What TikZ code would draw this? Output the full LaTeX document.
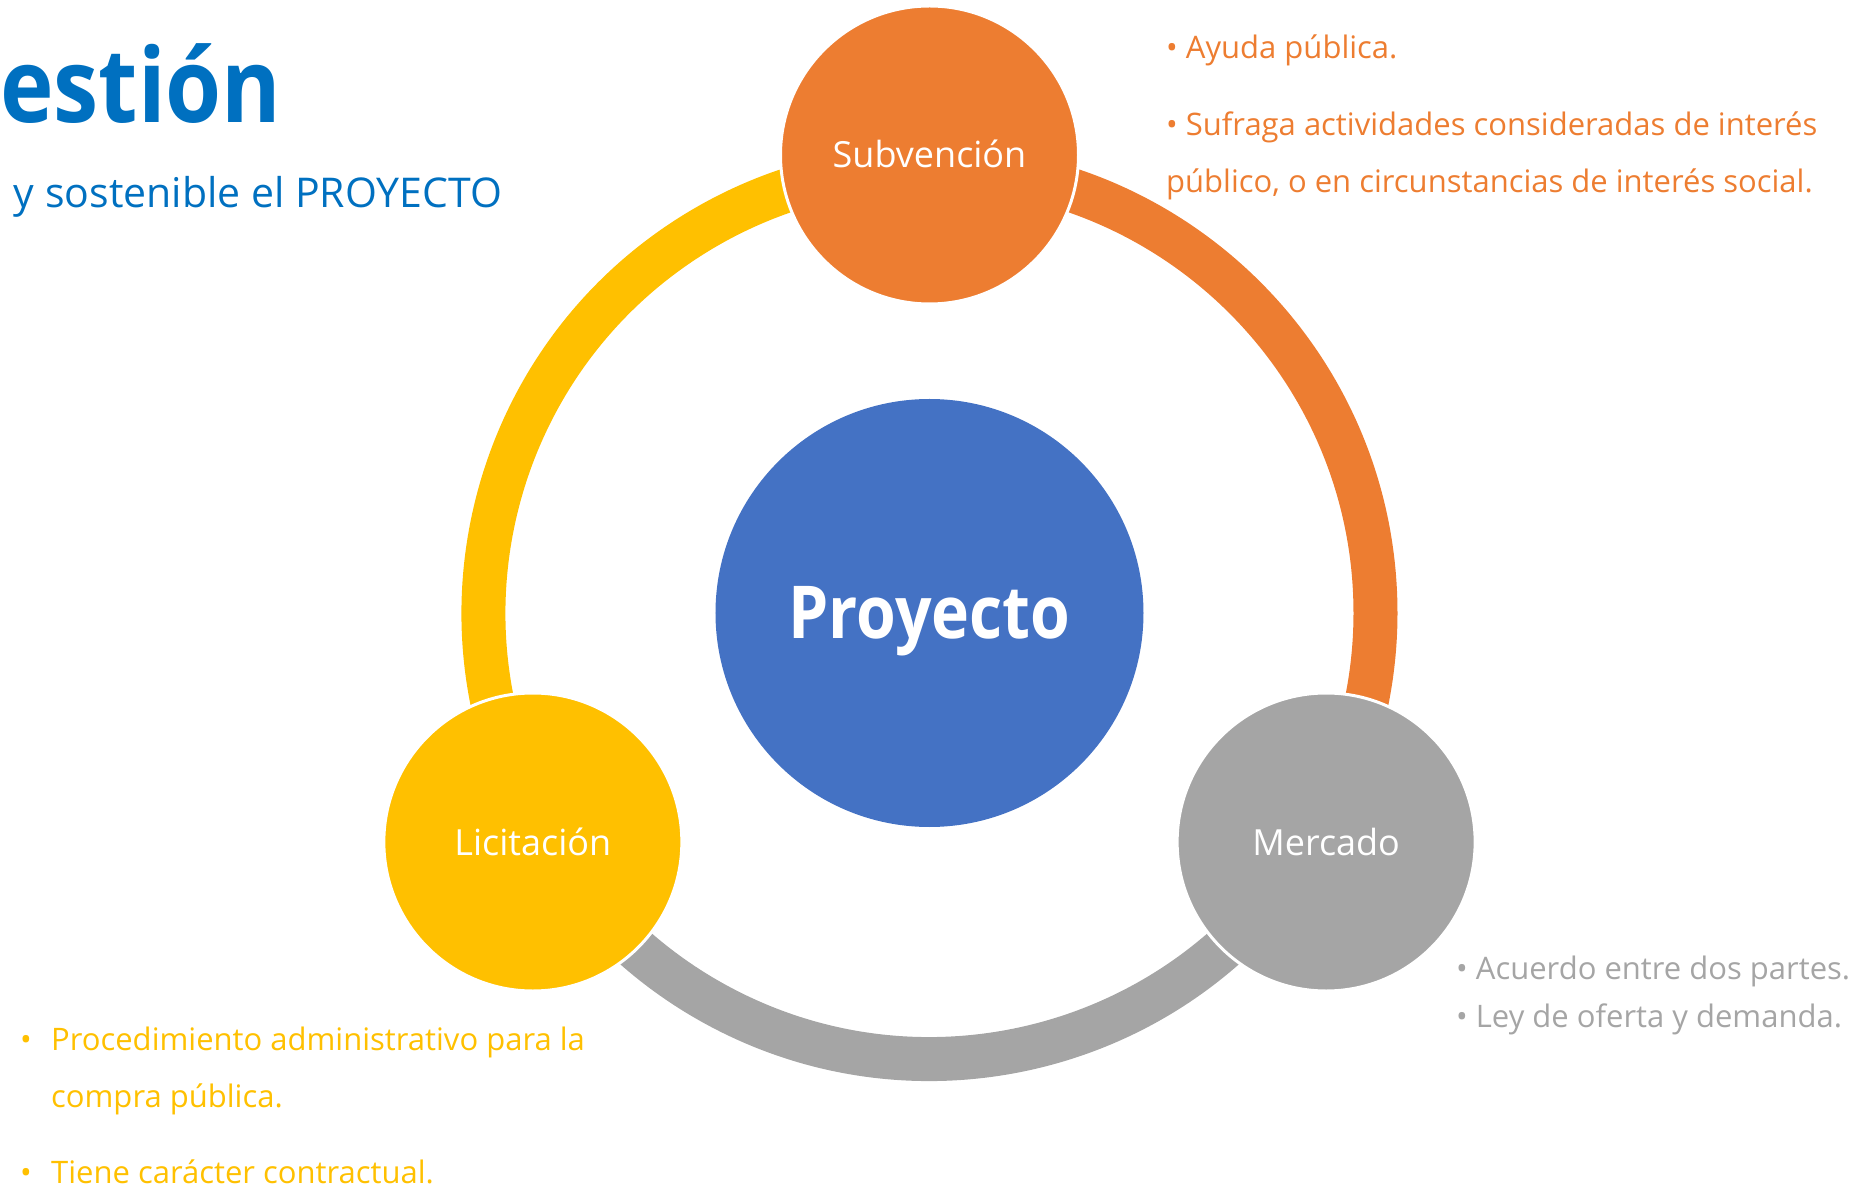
\documentclass[tikz,border=0pt]{standalone}
\usepackage{fontspec}
\setmainfont{Open Sans}
\newfontfamily\heavyfont[FakeStretch=0.88]{Open Sans}
\definecolor{subvorange}{HTML}{ED7D31}
\definecolor{licyellow}{HTML}{FFC000}
\definecolor{mercgray}{HTML}{A5A5A5}
\definecolor{proyblue}{HTML}{4472C4}
\definecolor{titleblue}{HTML}{0070C0}
\tikzset{
  ring/.style={line width=44pt},
  smallcirc/.style={circle, draw=white, line width=3pt, minimum size=298pt, inner sep=0pt,
    text=white, text height=26pt, text depth=0pt, font=\fontsize{36}{40}\selectfont},
  bigcirc/.style={circle, fill=proyblue, minimum size=428pt, inner sep=0pt, text=white,
    text height=50pt, text depth=0pt, font=\heavyfont\bfseries\fontsize{73}{80}\selectfont},
  bullettext/.style={anchor=base west, inner sep=0pt, font=\fontsize{31}{36}\selectfont},
}
\begin{document}
\begin{tikzpicture}[x=1pt,y=1pt]
  \useasboundingbox (-929.5,-575) rectangle (929.5,613);
  % ring under the circles
  \coordinate (ringtop) at (90:446);
  \coordinate (ringright) at (-30:446);
  \coordinate (ringleft) at (210:446);
  \draw[ring, subvorange] (ringtop) arc[start angle=90, end angle=-30, radius=446];
  \draw[ring, mercgray] (ringright) arc[start angle=-30, end angle=-150, radius=446];
  \draw[ring, licyellow] (ringleft) arc[start angle=210, end angle=90, radius=446];
  % circles
  \node[bigcirc] (proy) at (0,0) {Proyecto};
  \node[smallcirc, fill=subvorange] (subv) at (90:458) {Subvención};
  \node[smallcirc, fill=mercgray] (merc) at (-30:458) {Mercado};
  \node[smallcirc, fill=licyellow] (lici) at (210:458) {Licitación};
  % title
  \node[anchor=base west, inner sep=0pt, text=titleblue, font=\heavyfont\bfseries\fontsize{103}{110}\selectfont] (titulo) at (-929.5,490) {estión};
  \node[anchor=base east, inner sep=0pt, text=titleblue, font=\fontsize{41}{48}\selectfont] (subtitulo) at (-427,405) {y sostenible el PROYECTO};
  % notes
  \node[bullettext, text=subvorange] (ayuda) at (236.5,554) {• Ayuda pública.};
  \node[bullettext, text=subvorange] (sufraga) at (236.5,477) {• Sufraga actividades consideradas de interés};
  \node[bullettext, text=subvorange] (publico) at (236.5,420) {público, o en circunstancias de interés social.};
  \node[bullettext, text=mercgray] (acuerdo) at (526.5,-366) {• Acuerdo entre dos partes.};
  \node[bullettext, text=mercgray] (ley) at (526.5,-414) {• Ley de oferta y demanda.};
  \node[bullettext, text=licyellow] (puntoa) at (-909.5,-437) {•};
  \node[bullettext, text=licyellow] (procedimiento) at (-878.5,-437) {Procedimiento administrativo para la};
  \node[bullettext, text=licyellow] (compra) at (-878.5,-494) {compra pública.};
  \node[bullettext, text=licyellow] (puntob) at (-909.5,-570) {•};
  \node[bullettext, text=licyellow] (tiene) at (-878.5,-570) {Tiene carácter contractual.};
\end{tikzpicture}
\end{document}
